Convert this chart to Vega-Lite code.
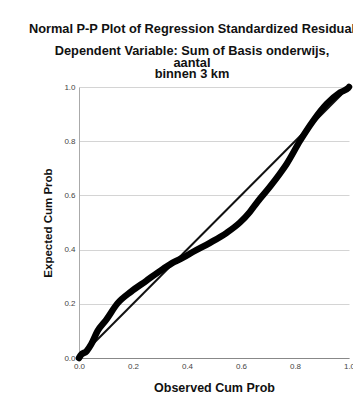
{
  "$schema": "https://vega.github.io/schema/vega-lite/v6.json",
  "autosize": "none",
  "width": 270,
  "height": 271,
  "padding": {"left": 79, "top": 87, "right": 4, "bottom": 47},
  "background": "white",
  "config": {
    "font": "Liberation Sans",
    "view": {"stroke": null}
  },
  "title": {
    "text": "Normal P-P Plot of Regression Standardized Residual",
    "subtitle": ["Dependent Variable: Sum of Basis onderwijs,", "aantal", "binnen 3 km"],
    "anchor": "middle",
    "frame": "group",
    "dx": -22,
    "offset": 2,
    "font": "Liberation Sans",
    "fontSize": 12.8,
    "fontWeight": "bold",
    "color": "#111",
    "subtitleFont": "Liberation Sans",
    "subtitleFontSize": 12.8,
    "subtitleFontWeight": "bold",
    "subtitleColor": "#111",
    "subtitleLineHeight": 11.5,
    "subtitlePadding": 9
  },
  "datasets": {
    "pp": [
      {"obs": 0.0, "exp": 0.0},
      {"obs": 0.007, "exp": 0.011},
      {"obs": 0.028, "exp": 0.025},
      {"obs": 0.045, "exp": 0.05},
      {"obs": 0.069, "exp": 0.1},
      {"obs": 0.1, "exp": 0.14},
      {"obs": 0.143, "exp": 0.202},
      {"obs": 0.193, "exp": 0.245},
      {"obs": 0.248, "exp": 0.284},
      {"obs": 0.31, "exp": 0.328},
      {"obs": 0.353, "exp": 0.355},
      {"obs": 0.385, "exp": 0.37},
      {"obs": 0.423, "exp": 0.392},
      {"obs": 0.485, "exp": 0.425},
      {"obs": 0.547, "exp": 0.462},
      {"obs": 0.596, "exp": 0.5},
      {"obs": 0.632, "exp": 0.538},
      {"obs": 0.66, "exp": 0.575},
      {"obs": 0.707, "exp": 0.632},
      {"obs": 0.74, "exp": 0.675},
      {"obs": 0.769, "exp": 0.716},
      {"obs": 0.819, "exp": 0.802},
      {"obs": 0.868, "exp": 0.876},
      {"obs": 0.917, "exp": 0.937},
      {"obs": 0.967, "exp": 0.98},
      {"obs": 0.997, "exp": 0.996},
      {"obs": 1.0, "exp": 1.0}
    ],
    "ref": [
      {"obs": 0, "exp": 0},
      {"obs": 1, "exp": 1}
    ]
  },
  "encoding": {
    "x": {
      "field": "obs",
      "type": "quantitative",
      "scale": {"domain": [0, 1], "nice": false, "zero": false},
      "axis": {
        "title": "Observed Cum Prob",
        "values": [0, 0.2, 0.4, 0.6, 0.8, 1.0],
        "format": ".1f",
        "grid": false,
        "ticks": false,
        "domainColor": "#888",
        "labelFontSize": 8,
        "labelColor": "#444",
        "labelPadding": 4,
        "labelFlush": false,
        "titleFontSize": 12.5,
        "titleFontWeight": "bold",
        "titleColor": "#111",
        "titlePadding": 11
      }
    },
    "y": {
      "field": "exp",
      "type": "quantitative",
      "scale": {"domain": [0, 1], "nice": false, "zero": false},
      "axis": {
        "title": "Expected Cum Prob",
        "values": [0, 0.2, 0.4, 0.6, 0.8, 1.0],
        "format": ".1f",
        "grid": true,
        "gridColor": "#d4d4d4",
        "gridWidth": 1,
        "ticks": false,
        "domainColor": "#aaa",
        "labelFontSize": 8,
        "labelColor": "#444",
        "labelPadding": 4,
        "labelFlush": false,
        "titleFontSize": 11.5,
        "titleFontWeight": "bold",
        "titleColor": "#111",
        "titlePadding": 10
      }
    }
  },
  "layer": [
    {
      "data": {"name": "ref"},
      "mark": {"type": "line", "color": "#111", "strokeWidth": 2}
    },
    {
      "data": {"name": "pp"},
      "mark": {"type": "line", "color": "#000", "strokeWidth": 6.5, "strokeCap": "round", "strokeJoin": "round", "interpolate": "monotone"}
    }
  ]
}
